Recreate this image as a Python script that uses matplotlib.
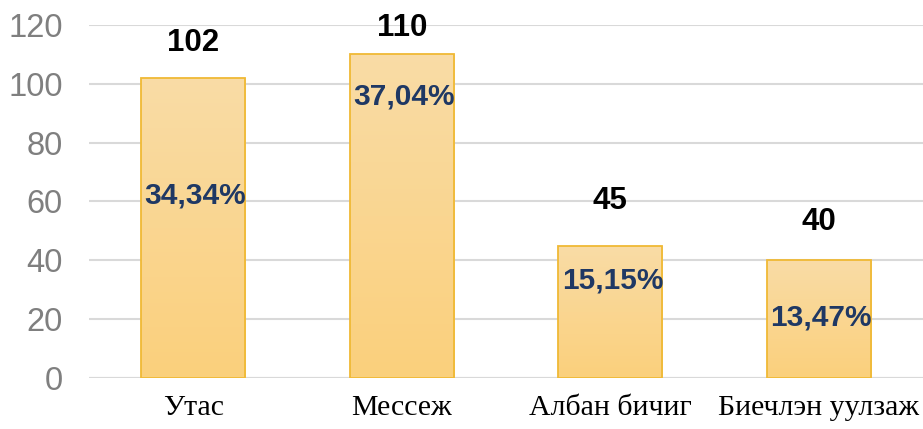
import matplotlib.pyplot as plt
import numpy as np
from matplotlib.colors import LinearSegmentedColormap

# data
categories = ['Утас', 'Мессеж', 'Албан бичиг', 'Биечлэн уулзаж']
counts = [102, 110, 45, 40]
shares = ['34,34%', '37,04%', '15,15%', '13,47%']

# label heights (data units), placed by hand like in the original
count_label_y = [114, 119, 60, 53]
share_label_y = [62, 95.5, 33, 20.5]

fig = plt.figure(figsize=(9.23, 4.29), dpi=100)
ax = fig.add_axes([0.0964, 0.119, 0.9036, 0.823])

x = np.arange(len(categories))
bars = ax.bar(x, counts, width=0.5, color='none', edgecolor='#f0b935',
              linewidth=1.3, zorder=3)

# vertical gradient fill for each bar
cmap = LinearSegmentedColormap.from_list('bar', ['#fbd07c', '#f9dca6'])
grad = np.linspace(0, 1, 256).reshape(-1, 1)
for b in bars:
    x0, w, h = b.get_x(), b.get_width(), b.get_height()
    im = ax.imshow(grad, cmap=cmap, origin='lower', aspect='auto',
                   extent=[x0, x0 + w, 0, h], zorder=2)
    im.set_clip_path(b)

ax.set_xlim(-0.5, 3.5)
ax.set_ylim(0, 120)
ax.set_yticks(range(0, 121, 20))
ax.yaxis.grid(True, color='#d9d9d9', linewidth=1.5, zorder=0)
ax.set_axisbelow(True)
for s in ax.spines.values():
    s.set_visible(False)
ax.axhline(0, color='#d9d9d9', linewidth=1.5, zorder=1)

ax.tick_params(axis='y', length=0, pad=19, labelsize=23.5, labelcolor='#7f7f7f')
ax.tick_params(axis='x', length=0, pad=12)
for t in ax.get_yticklabels():
    t.set_fontfamily('Liberation Sans')
ax.set_xticks(x)
ax.set_xticklabels(categories, fontsize=21.5, fontfamily='Liberation Serif')

for i in range(len(categories)):
    ax.text(x[i], count_label_y[i], str(counts[i]), ha='center', va='center',
            fontsize=22.5, fontweight='bold', color='black',
            fontfamily='Liberation Sans', clip_on=False, zorder=5)
    ax.text(x[i] + 0.01, share_label_y[i], shares[i], ha='center', va='center',
            fontsize=21.5, fontweight='bold', color='#1f3864',
            fontfamily='Liberation Sans', zorder=5)

fig.savefig('out.png', dpi=100)
